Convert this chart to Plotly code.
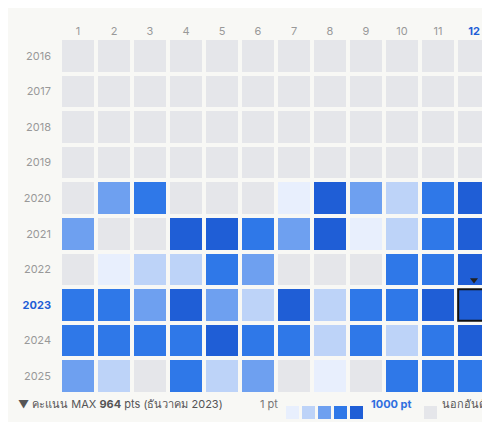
import plotly.graph_objects as go

months = [str(m) for m in range(1, 13)]
years = ["2016", "2017", "2018", "2019", "2020", "2021", "2022", "2023", "2024", "2025"]
# level 0 = out of ranking, 1..5 = score bands (1 pt .. 1000 pt)
levels = [
    [0]*12,
    [0]*12,
    [0]*12,
    [0]*12,
    [0, 3, 4, 0, 0, 0, 1, 5, 3, 2, 4, 5],
    [3, 0, 0, 5, 5, 4, 3, 5, 1, 2, 4, 5],
    [0, 1, 2, 2, 4, 3, 0, 0, 0, 4, 4, 5],
    [4, 4, 3, 5, 3, 2, 5, 2, 4, 4, 5, 5],
    [4, 4, 4, 4, 5, 4, 4, 2, 4, 2, 4, 5],
    [3, 2, 0, 4, 2, 3, 0, 1, 0, 4, 4, 4],
]
colors = ["#e5e6ea", "#e8effd", "#bdd3f8", "#6ea0f0", "#2f78e8", "#1f5ed6"]
selected = ("12", "2023")
max_text = "▼ คะแนน MAX <b>964</b> pts (ธันวาคม 2023)"

cs = []
n = len(colors)
for i, c in enumerate(colors):
    cs.append([i / n, c]); cs.append([(i + 1) / n, c])

xi = list(range(len(months)))
yi = list(range(len(years)))
sx, sy = months.index(selected[0]), years.index(selected[1])

fig = go.Figure(go.Heatmap(
    x=xi, y=yi, z=levels, zmin=-0.5, zmax=n - 0.5,
    colorscale=cs, showscale=False, xgap=4, ygap=4, hoverinfo="skip"))

fig.add_shape(type="rect", xref="x", yref="y",
              x0=sx - 0.44, x1=sx + 0.44, y0=sy - 0.44, y1=sy + 0.44,
              line=dict(color="#111111", width=2))
fig.add_trace(go.Scatter(x=[sx], y=[sy - 0.7], mode="markers",
                         marker=dict(symbol="triangle-down", size=7, color="#222"),
                         hoverinfo="skip", showlegend=False))

W, H, L, T, B = 490, 422, 52, 30, 36
pw, ph = W - L - 6, H - T - B
def px(x): return (x - L) / pw
def py(y): return (H - B - y) / ph

fig.add_annotation(x=px(8), y=py(405), xref="paper", yref="paper", text=max_text,
                   showarrow=False, xanchor="left", font=dict(size=11, color="#555"))
fig.add_annotation(x=px(272), y=py(405), xref="paper", yref="paper", text="1 pt",
                   showarrow=False, xanchor="right", font=dict(size=11, color="#777"))
for i, c in enumerate(colors[1:]):
    x0 = 278 + i * 16
    fig.add_shape(type="rect", xref="paper", yref="paper", x0=px(x0), x1=px(x0 + 13),
                  y0=py(398), y1=py(411), fillcolor=c, line=dict(width=0))
fig.add_annotation(x=px(361), y=py(405), xref="paper", yref="paper", text="<b>1000 pt</b>",
                   showarrow=False, xanchor="left", font=dict(size=11, color="#2f6fe0"))
fig.add_shape(type="rect", xref="paper", yref="paper", x0=px(416), x1=px(429),
              y0=py(398), y1=py(411), fillcolor=colors[0], line=dict(width=0))
fig.add_annotation(x=px(432), y=py(405), xref="paper", yref="paper", text="นอกอันดับ",
                   showarrow=False, xanchor="left", font=dict(size=11, color="#555"))

xt = [f"<b><span style='color:#1f5ed6'>{m}</span></b>" if m == selected[0] else m for m in months]
yt = [f"<b><span style='color:#1f5ed6'>{y}</span></b>" if y == selected[1] else y for y in years]
fig.update_layout(
    width=W, height=H, margin=dict(l=L, r=6, t=T, b=B),
    paper_bgcolor="#f8f8f5", plot_bgcolor="#f8f8f5",
    font=dict(family="Inter, Noto Sans, sans-serif", size=11, color="#999"),
    xaxis=dict(side="top", range=[-0.5, 11.5], tickvals=xi, ticktext=xt, showgrid=False,
               zeroline=False, ticks="", automargin=False, tickfont=dict(size=11, color="#999")),
    yaxis=dict(range=[9.5, -0.5], tickvals=yi, ticktext=yt, showgrid=False, automargin=False,
               zeroline=False, ticks="", ticklabelstandoff=8, tickfont=dict(size=11, color="#999")),
)
fig.write_html("out.html")
